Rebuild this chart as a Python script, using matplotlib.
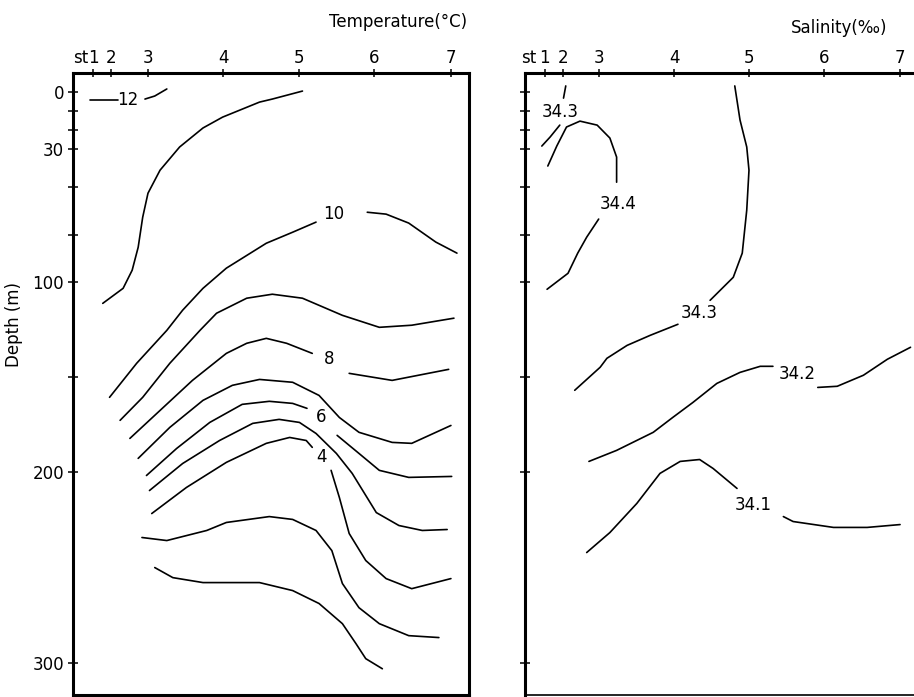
import matplotlib.pyplot as plt

# stations along the section (distance units, st1 = 0)
stations = ['1', '2', '3', '4', '5', '6', '7']
station_x = [0.0, 0.24, 0.73, 1.73, 2.73, 3.73, 4.75]

# standard observation depths (m)
depth_ticks = [0, 10, 20, 30, 50, 75, 100, 150, 200, 300]
depth_labels = ['0', '', '', '30', '', '', '100', '', '200', '300']

# ---- isotherms, each a list of segments (x, depth); gaps hold the labels ----
t12 = [([-0.04, 0.33], [4.2, 4.2]),
       ([0.69, 0.82, 0.98], [3.7, 2.1, -1.6])]
t11 = [([2.78, 2.38, 2.21, 1.72, 1.46, 1.15, 0.89, 0.73, 0.66, 0.60, 0.52, 0.40, 0.13],
        [-0.5, 3.7, 5.3, 13.2, 18.9, 28.9, 41.1, 53.2, 65.8, 81.6, 93.7, 103.2, 111.1])]
t10 = [([0.22, 0.58, 0.98, 1.19, 1.46, 1.77, 2.30, 2.65, 2.96],
        [160.5, 142.6, 125.3, 114.7, 103.2, 92.6, 79.5, 73.7, 68.4]),
       ([3.64, 3.89, 4.19, 4.55, 4.83], [63.2, 64.2, 68.9, 78.9, 84.7])]
t9 = [([0.36, 0.66, 1.02, 1.42, 1.64, 2.04, 2.38, 2.78, 3.31, 3.80, 4.23, 4.79],
       [172.6, 160.5, 142.6, 125.3, 116.3, 108.4, 106.3, 108.4, 117.4, 123.7, 122.6, 118.9])]
t8 = [([0.49, 0.89, 1.32, 1.77, 2.04, 2.30, 2.57, 2.91],
       [182.1, 167.4, 151.6, 137.4, 132.1, 129.5, 132.1, 137.4]),
      ([3.40, 3.97, 4.72], [147.9, 151.6, 145.8])]
t7 = [([0.60, 1.02, 1.46, 1.85, 2.21, 2.65, 3.00, 3.27, 3.53, 3.97, 4.23, 4.75],
       [192.6, 176.3, 162.1, 154.2, 151.1, 152.6, 159.5, 171.1, 178.9, 184.2, 184.7, 175.3])]
t6 = [([0.71, 1.11, 1.55, 1.98, 2.34, 2.65, 2.84],
       [201.6, 187.4, 173.7, 164.2, 162.6, 163.7, 166.3]),
      ([3.24, 3.53, 3.80, 4.19, 4.76], [180.5, 190.0, 198.9, 202.6, 202.1])]
t5 = [([0.75, 1.19, 1.68, 2.12, 2.47, 2.74, 2.96, 3.23, 3.44, 3.76, 4.06, 4.37, 4.70],
       [209.5, 195.3, 183.2, 174.2, 172.1, 173.7, 179.5, 190.0, 200.5, 221.1, 227.9, 230.5, 230.0])]
t4 = [([0.78, 1.24, 1.77, 2.30, 2.61, 2.83, 2.91],
       [221.6, 207.9, 194.7, 184.7, 181.6, 183.2, 186.8]),
      ([3.16, 3.27, 3.40, 3.62, 3.89, 4.23, 4.75],
       [198.9, 213.2, 232.1, 246.3, 255.8, 261.1, 255.8])]
t3 = [([0.65, 0.98, 1.51, 1.77, 2.34, 2.65, 2.96, 3.17, 3.31, 3.53, 3.80, 4.19, 4.59],
       [234.2, 235.8, 230.5, 226.3, 223.2, 224.7, 230.5, 241.1, 258.4, 271.1, 279.5, 285.8, 286.8])]
t2 = [([0.82, 1.06, 1.46, 2.21, 2.65, 3.00, 3.31, 3.49, 3.62, 3.84],
       [250.0, 255.3, 257.9, 257.9, 262.1, 268.9, 279.5, 290.0, 297.9, 303.2])]

temp_labels = ['12', '10', '8', '6', '4']
temp_label_x = [0.46, 3.20, 3.13, 3.03, 3.03]
temp_label_z = [4.2, 64.0, 140.5, 171.0, 192.0]

# ---- isohalines ----
s343_top = [([0.28, 0.25], [-3.2, 3.2]),
            ([0.20, 0.07, -0.04], [17.4, 23.7, 28.4])]
s344 = [([0.04, 0.16, 0.29, 0.47, 0.70, 0.87, 0.96, 0.96],
         [38.9, 28.4, 18.4, 15.3, 17.4, 24.2, 34.2, 47.4]),
        ([0.72, 0.56, 0.44, 0.31, 0.03], [66.8, 76.3, 84.7, 95.3, 103.7])]
s343 = [([2.54, 2.61, 2.70, 2.73, 2.70, 2.64, 2.52, 2.21],
         [-3.2, 14.7, 28.9, 41.1, 62.1, 84.7, 97.4, 109.5]),
        ([1.78, 1.41, 1.10, 0.83, 0.74, 0.40], [122.1, 127.9, 133.2, 140.0, 144.7, 156.8])]
s342 = [([0.59, 0.96, 1.45, 1.71, 1.98, 2.30, 2.61, 2.88, 3.05],
         [194.2, 188.4, 178.9, 171.1, 163.2, 153.2, 147.4, 144.2, 144.2]),
        ([3.65, 3.91, 4.26, 4.58, 4.89], [155.3, 154.7, 148.9, 140.5, 134.2])]
s341 = [([0.56, 0.87, 1.23, 1.54, 1.81, 2.07, 2.25, 2.57],
         [242.1, 231.6, 216.3, 200.5, 194.2, 193.2, 197.9, 208.4]),
        ([3.19, 3.32, 3.86, 4.31, 4.75], [223.2, 225.8, 228.9, 228.9, 227.4])]

sal_labels = ['34.3', '34.4', '34.3', '34.2', '34.1']
sal_label_x = [0.21, 0.98, 2.07, 3.37, 2.78]
sal_label_z = [10.5, 58.9, 116.3, 148.0, 217.0]

isotherms = [t12, t11, t10, t9, t8, t7, t6, t5, t4, t3, t2]
isohalines = [s343_top, s344, s343, s342, s341]

fs = 12
fig = plt.figure(figsize=(9.14, 6.97), dpi=100)
ax1 = fig.add_axes([73 / 914, 2 / 697, 396 / 914, 622 / 697])
ax2 = fig.add_axes([525 / 914, 2 / 697, 393 / 914, 622 / 697])


def frame(ax):
    ax.set_xlim(-0.265, 4.99)
    ax.set_ylim(317, -10)
    ax.xaxis.tick_top()
    ax.set_xticks(station_x)
    ax.set_xticklabels(stations)
    ax.set_yticks(depth_ticks)
    ax.tick_params(axis='x', direction='inout', length=6, width=1.1, pad=1, labelsize=fs)
    ax.tick_params(axis='y', direction='inout', length=7, width=1.1, pad=3, labelsize=fs)
    for s in ax.spines.values():
        s.set_linewidth(2.2)


frame(ax1)
frame(ax2)
ax1.set_yticklabels(depth_labels)
ax2.set_yticklabels([])
ax2.spines['bottom'].set_linewidth(1.2)

for line in isotherms:
    for xs, zs in line:
        ax1.plot(xs, zs, color='black', lw=1.2, solid_capstyle='round', solid_joinstyle='round')
for lab, x, z in zip(temp_labels, temp_label_x, temp_label_z):
    ax1.text(x, z, lab, ha='center', va='center', fontsize=fs)

for line in isohalines:
    for xs, zs in line:
        ax2.plot(xs, zs, color='black', lw=1.2, solid_capstyle='round', solid_joinstyle='round')
for lab, x, z in zip(sal_labels, sal_label_x, sal_label_z):
    ax2.text(x, z, lab, ha='center', va='center', fontsize=fs)

# "st" prefix ahead of the first station label
ax1.annotate('st', xy=(station_x[0], 1), xycoords=('data', 'axes fraction'),
             xytext=(-3, 4), textcoords='offset points', ha='right', va='bottom', fontsize=fs)
ax2.annotate('st', xy=(station_x[0], 1), xycoords=('data', 'axes fraction'),
             xytext=(-6, 4), textcoords='offset points', ha='right', va='bottom', fontsize=fs)

ax1.set_ylabel('Depth (m)', fontsize=fs)
ax1.yaxis.set_label_coords(-0.125, 0.595)

fig.text(467 / 914, 1 - 22 / 697, 'Temperature(°C)', ha='right', va='center', fontsize=fs)
fig.text(887 / 914, 1 - 28 / 697, 'Salinity(‰)', ha='right', va='center', fontsize=fs)

fig.savefig('out.png', dpi=100)
